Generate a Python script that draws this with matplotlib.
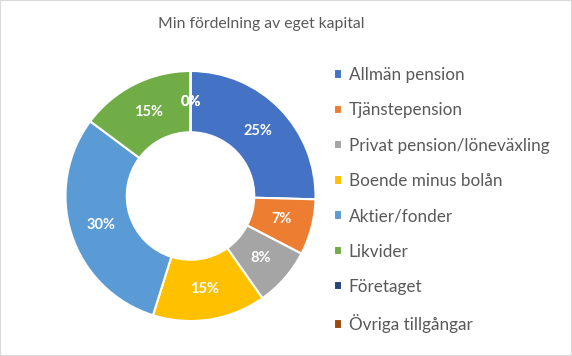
import matplotlib.pyplot as plt
from matplotlib.patches import Rectangle

labels = ['Allmän pension', 'Tjänstepension', 'Privat pension/löneväxling',
          'Boende minus bolån', 'Aktier/fonder', 'Likvider', 'Företaget',
          'Övriga tillgångar']
values = [25.4, 7.2, 7.6, 14.6, 30.3, 14.8, 0.0, 0.0]
colors = ['#4472C4', '#ED7D31', '#A5A5A5', '#FFC000', '#5B9BD5', '#70AD47',
          '#264478', '#9E480E']

plt.rcParams['font.family'] = ['Lato', 'DejaVu Sans']

fig = plt.figure(figsize=(5.72, 3.56), dpi=100)
fig.patches.append(Rectangle((0, 0), 1, 1, transform=fig.transFigure,
                             facecolor='white', edgecolor='#D9D9D9',
                             linewidth=1.5, zorder=-1))

ax = fig.add_axes([65 / 572, 35 / 356, 251 / 572, 250 / 356])
wedges, texts, autotexts = ax.pie(
    values, colors=colors, startangle=90, counterclock=False,
    radius=1, autopct='%.0f%%', pctdistance=0.75,
    wedgeprops=dict(width=0.49, edgecolor='white', linewidth=1.5))
for t in autotexts:
    t.set_color('white')
    t.set_fontweight('bold')
    t.set_fontsize(10.5)
ax.set_xlim(-1, 1)
ax.set_ylim(-1, 1)
ax.set_aspect('equal')
ax.axis('off')

fig.text(261 / 572, 1 - 24 / 356, 'Min fördelning av eget kapital',
         ha='center', va='center', fontsize=11.3, color='#595959')

fig.legend(wedges, labels, loc='upper left',
           bbox_to_anchor=(334 / 572, 1 - 67 / 356), frameon=False,
           borderaxespad=0, borderpad=0,
           fontsize=12.3, handlelength=0.47, handleheight=0.47,
           handletextpad=0.4, labelspacing=1.13, labelcolor='#595959')

fig.savefig('out.png', dpi=100)
